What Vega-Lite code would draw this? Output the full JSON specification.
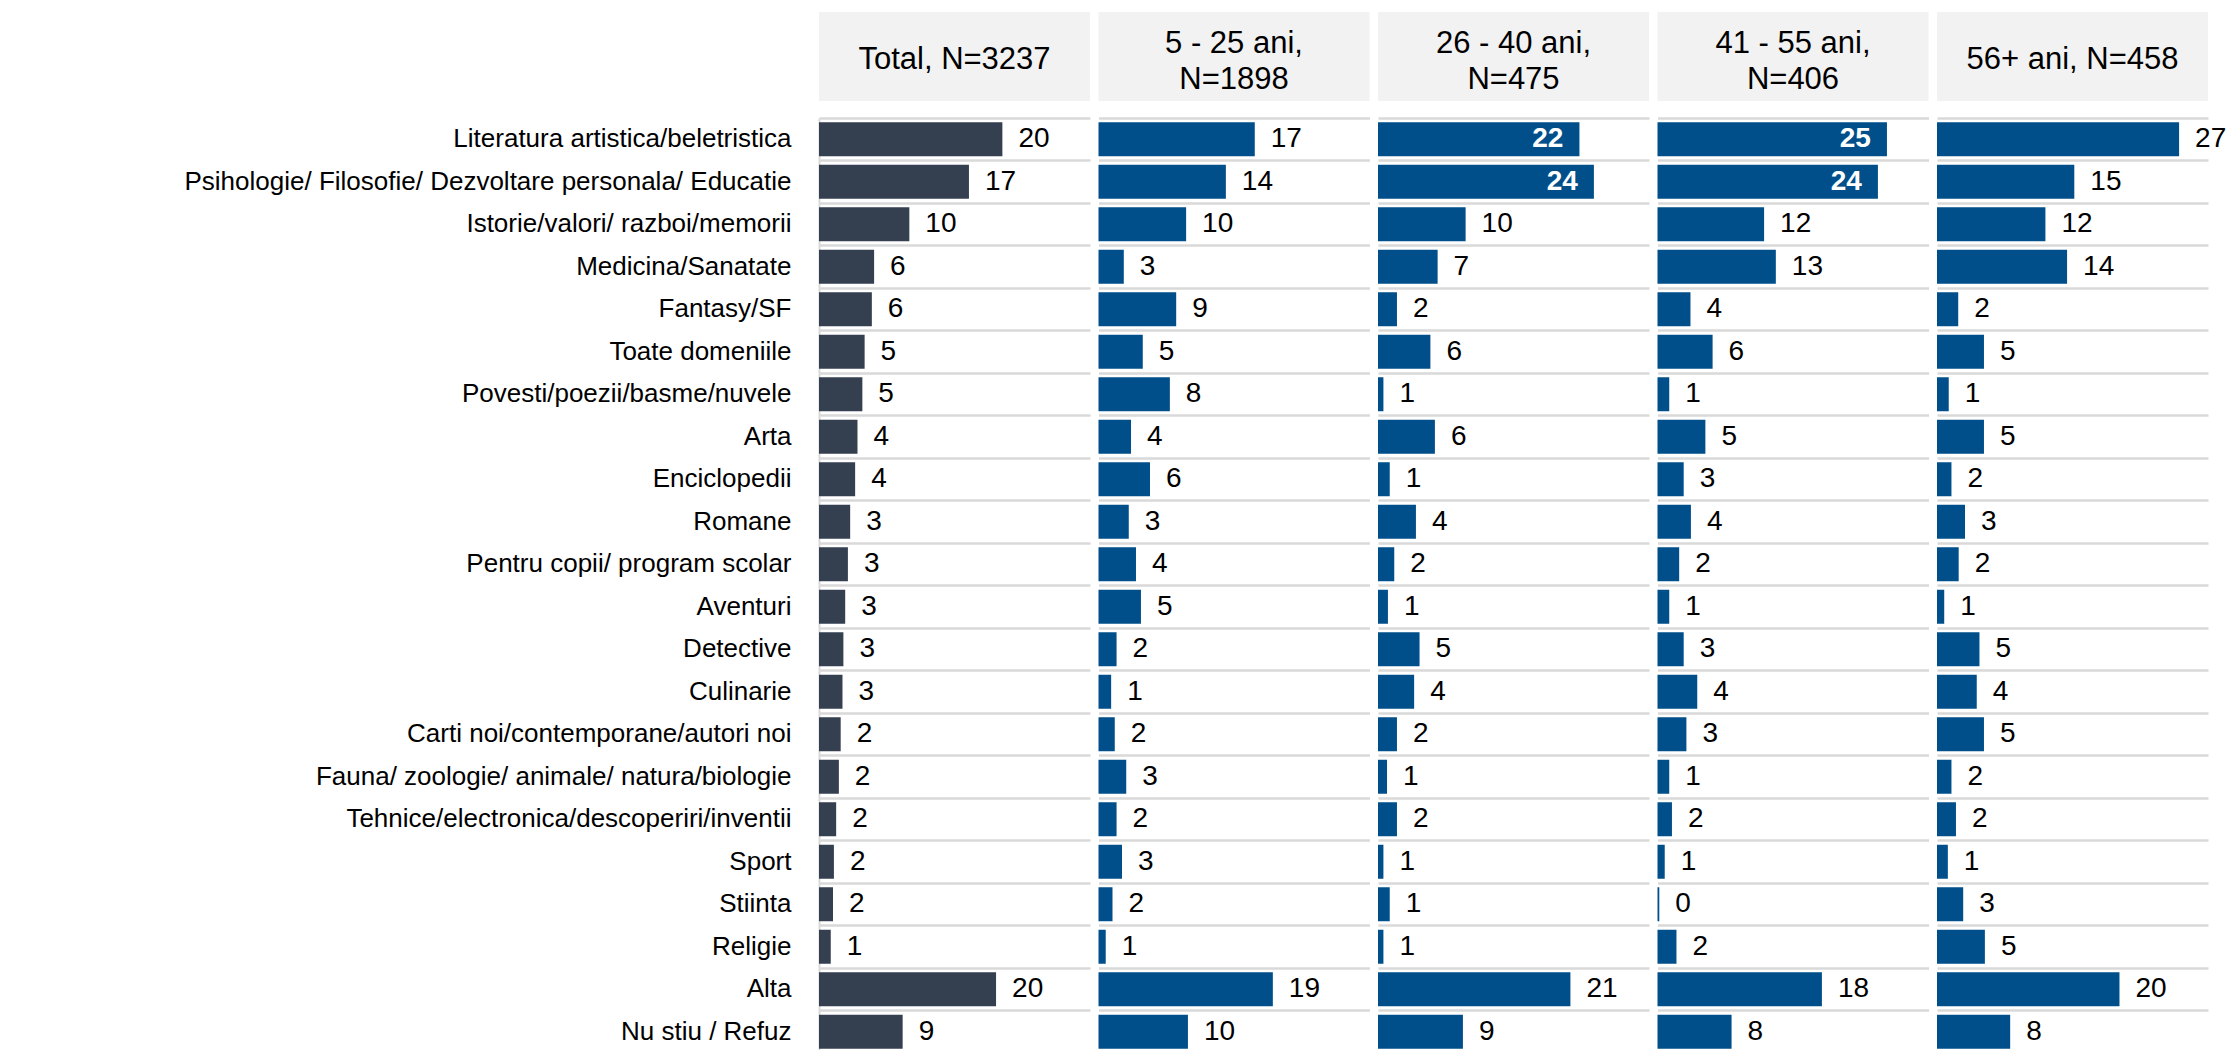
{
  "$schema": "https://vega.github.io/schema/vega-lite/v6.json",
  "padding": {"left": 5, "top": 12, "right": 0, "bottom": 0},
  "autosize": {"type": "pad"},
  "background": "white",
  "config": {"font": "Liberation Sans", "view": {"stroke": null}},
  "datasets": {
    "headers": [
      {"group": "Total", "header": "Total, N=3237"},
      {"group": "5-25", "header": "5 - 25 ani,\nN=1898"},
      {"group": "26-40", "header": "26 - 40 ani,\nN=475"},
      {"group": "41-55", "header": "41 - 55 ani,\nN=406"},
      {"group": "56+", "header": "56+ ani, N=458"}
    ],
    "rows": [
      {"cat": "Literatura artistica/beletristica", "group": "Total", "value": 20.3},
      {"cat": "Psihologie/ Filosofie/ Dezvoltare personala/ Educatie", "group": "Total", "value": 16.6},
      {"cat": "Istorie/valori/ razboi/memorii", "group": "Total", "value": 10.0},
      {"cat": "Medicina/Sanatate", "group": "Total", "value": 6.1},
      {"cat": "Fantasy/SF", "group": "Total", "value": 5.85},
      {"cat": "Toate domeniile", "group": "Total", "value": 5.05},
      {"cat": "Povesti/poezii/basme/nuvele", "group": "Total", "value": 4.8},
      {"cat": "Arta", "group": "Total", "value": 4.26},
      {"cat": "Enciclopedii", "group": "Total", "value": 4.0},
      {"cat": "Romane", "group": "Total", "value": 3.45},
      {"cat": "Pentru copii/ program scolar", "group": "Total", "value": 3.2},
      {"cat": "Aventuri", "group": "Total", "value": 2.9},
      {"cat": "Detective", "group": "Total", "value": 2.7},
      {"cat": "Culinarie", "group": "Total", "value": 2.6},
      {"cat": "Carti noi/contemporane/autori noi", "group": "Total", "value": 2.4},
      {"cat": "Fauna/ zoologie/ animale/ natura/biologie", "group": "Total", "value": 2.2},
      {"cat": "Tehnice/electronica/descoperiri/inventii", "group": "Total", "value": 1.9},
      {"cat": "Sport", "group": "Total", "value": 1.65},
      {"cat": "Stiinta", "group": "Total", "value": 1.55},
      {"cat": "Religie", "group": "Total", "value": 1.3},
      {"cat": "Alta", "group": "Total", "value": 19.6},
      {"cat": "Nu stiu / Refuz", "group": "Total", "value": 9.26},

      {"cat": "Literatura artistica/beletristica", "group": "5-25", "value": 17.3},
      {"cat": "Psihologie/ Filosofie/ Dezvoltare personala/ Educatie", "group": "5-25", "value": 14.1},
      {"cat": "Istorie/valori/ razboi/memorii", "group": "5-25", "value": 9.7},
      {"cat": "Medicina/Sanatate", "group": "5-25", "value": 2.8},
      {"cat": "Fantasy/SF", "group": "5-25", "value": 8.6},
      {"cat": "Toate domeniile", "group": "5-25", "value": 4.9},
      {"cat": "Povesti/poezii/basme/nuvele", "group": "5-25", "value": 7.9},
      {"cat": "Arta", "group": "5-25", "value": 3.6},
      {"cat": "Enciclopedii", "group": "5-25", "value": 5.7},
      {"cat": "Romane", "group": "5-25", "value": 3.35},
      {"cat": "Pentru copii/ program scolar", "group": "5-25", "value": 4.15},
      {"cat": "Aventuri", "group": "5-25", "value": 4.7},
      {"cat": "Detective", "group": "5-25", "value": 2.0},
      {"cat": "Culinarie", "group": "5-25", "value": 1.4},
      {"cat": "Carti noi/contemporane/autori noi", "group": "5-25", "value": 1.8},
      {"cat": "Fauna/ zoologie/ animale/ natura/biologie", "group": "5-25", "value": 3.07},
      {"cat": "Tehnice/electronica/descoperiri/inventii", "group": "5-25", "value": 2.0},
      {"cat": "Sport", "group": "5-25", "value": 2.6},
      {"cat": "Stiinta", "group": "5-25", "value": 1.55},
      {"cat": "Religie", "group": "5-25", "value": 0.8},
      {"cat": "Alta", "group": "5-25", "value": 19.3},
      {"cat": "Nu stiu / Refuz", "group": "5-25", "value": 9.9},

      {"cat": "Literatura artistica/beletristica", "group": "26-40", "value": 22.3},
      {"cat": "Psihologie/ Filosofie/ Dezvoltare personala/ Educatie", "group": "26-40", "value": 23.9},
      {"cat": "Istorie/valori/ razboi/memorii", "group": "26-40", "value": 9.7},
      {"cat": "Medicina/Sanatate", "group": "26-40", "value": 6.6},
      {"cat": "Fantasy/SF", "group": "26-40", "value": 2.1},
      {"cat": "Toate domeniile", "group": "26-40", "value": 5.8},
      {"cat": "Povesti/poezii/basme/nuvele", "group": "26-40", "value": 0.6},
      {"cat": "Arta", "group": "26-40", "value": 6.3},
      {"cat": "Enciclopedii", "group": "26-40", "value": 1.3},
      {"cat": "Romane", "group": "26-40", "value": 4.2},
      {"cat": "Pentru copii/ program scolar", "group": "26-40", "value": 1.8},
      {"cat": "Aventuri", "group": "26-40", "value": 1.1},
      {"cat": "Detective", "group": "26-40", "value": 4.6},
      {"cat": "Culinarie", "group": "26-40", "value": 4.0},
      {"cat": "Carti noi/contemporane/autori noi", "group": "26-40", "value": 2.1},
      {"cat": "Fauna/ zoologie/ animale/ natura/biologie", "group": "26-40", "value": 1.0},
      {"cat": "Tehnice/electronica/descoperiri/inventii", "group": "26-40", "value": 2.1},
      {"cat": "Sport", "group": "26-40", "value": 0.6},
      {"cat": "Stiinta", "group": "26-40", "value": 1.3},
      {"cat": "Religie", "group": "26-40", "value": 0.6},
      {"cat": "Alta", "group": "26-40", "value": 21.3},
      {"cat": "Nu stiu / Refuz", "group": "26-40", "value": 9.4},

      {"cat": "Literatura artistica/beletristica", "group": "41-55", "value": 25.4},
      {"cat": "Psihologie/ Filosofie/ Dezvoltare personala/ Educatie", "group": "41-55", "value": 24.4},
      {"cat": "Istorie/valori/ razboi/memorii", "group": "41-55", "value": 11.8},
      {"cat": "Medicina/Sanatate", "group": "41-55", "value": 13.1},
      {"cat": "Fantasy/SF", "group": "41-55", "value": 3.65},
      {"cat": "Toate domeniile", "group": "41-55", "value": 6.1},
      {"cat": "Povesti/poezii/basme/nuvele", "group": "41-55", "value": 1.3},
      {"cat": "Arta", "group": "41-55", "value": 5.3},
      {"cat": "Enciclopedii", "group": "41-55", "value": 2.9},
      {"cat": "Romane", "group": "41-55", "value": 3.7},
      {"cat": "Pentru copii/ program scolar", "group": "41-55", "value": 2.4},
      {"cat": "Aventuri", "group": "41-55", "value": 1.3},
      {"cat": "Detective", "group": "41-55", "value": 2.9},
      {"cat": "Culinarie", "group": "41-55", "value": 4.4},
      {"cat": "Carti noi/contemporane/autori noi", "group": "41-55", "value": 3.2},
      {"cat": "Fauna/ zoologie/ animale/ natura/biologie", "group": "41-55", "value": 1.3},
      {"cat": "Tehnice/electronica/descoperiri/inventii", "group": "41-55", "value": 1.6},
      {"cat": "Sport", "group": "41-55", "value": 0.8},
      {"cat": "Stiinta", "group": "41-55", "value": 0.2},
      {"cat": "Religie", "group": "41-55", "value": 2.1},
      {"cat": "Alta", "group": "41-55", "value": 18.2},
      {"cat": "Nu stiu / Refuz", "group": "41-55", "value": 8.2},

      {"cat": "Literatura artistica/beletristica", "group": "56+", "value": 26.8},
      {"cat": "Psihologie/ Filosofie/ Dezvoltare personala/ Educatie", "group": "56+", "value": 15.2},
      {"cat": "Istorie/valori/ razboi/memorii", "group": "56+", "value": 12.0},
      {"cat": "Medicina/Sanatate", "group": "56+", "value": 14.4},
      {"cat": "Fantasy/SF", "group": "56+", "value": 2.35},
      {"cat": "Toate domeniile", "group": "56+", "value": 5.2},
      {"cat": "Povesti/poezii/basme/nuvele", "group": "56+", "value": 1.3},
      {"cat": "Arta", "group": "56+", "value": 5.2},
      {"cat": "Enciclopedii", "group": "56+", "value": 1.6},
      {"cat": "Romane", "group": "56+", "value": 3.1},
      {"cat": "Pentru copii/ program scolar", "group": "56+", "value": 2.4},
      {"cat": "Aventuri", "group": "56+", "value": 0.8},
      {"cat": "Detective", "group": "56+", "value": 4.7},
      {"cat": "Culinarie", "group": "56+", "value": 4.4},
      {"cat": "Carti noi/contemporane/autori noi", "group": "56+", "value": 5.2},
      {"cat": "Fauna/ zoologie/ animale/ natura/biologie", "group": "56+", "value": 1.6},
      {"cat": "Tehnice/electronica/descoperiri/inventii", "group": "56+", "value": 2.1},
      {"cat": "Sport", "group": "56+", "value": 1.2},
      {"cat": "Stiinta", "group": "56+", "value": 2.9},
      {"cat": "Religie", "group": "56+", "value": 5.3},
      {"cat": "Alta", "group": "56+", "value": 20.2},
      {"cat": "Nu stiu / Refuz", "group": "56+", "value": 8.1}
    ]
  },
  "spacing": 8.5,
  "hconcat": [
    {
      "spacing": 17,
      "bounds": "flush",
      "vconcat": [
        {
          "width": 271, "height": 89,
          "view": {"fill": "#f2f2f2", "stroke": null},
          "data": {"name": "headers"},
          "transform": [{"filter": "datum.group === 'Total'"}],
          "mark": {"type": "text", "fontSize": 31, "lineBreak": "\n", "lineHeight": 36, "color": "#000000", "baseline": "middle", "align": "center", "dy": 3},
          "encoding": {
            "text": {"field": "header"},
            "x": {"field": "group", "type": "nominal", "axis": null},
            "y": {"field": "group", "type": "nominal", "axis": null}
          }
        },
        {
          "width": 271, "height": 935,
          "data": {"name": "rows"},
          "transform": [{"filter": "datum.group === 'Total'"}],
          "encoding": {
            "y": {"field": "cat", "type": "nominal", "sort": null, "scale": {"paddingInner": 0.2, "paddingOuter": 0.1},
                  "axis": {"title": null, "labelFontSize": 26, "labelColor": "#000000", "labelPadding": 28, "labelLimit": 800, "ticks": false, "domain": true, "domainColor": "#d9d9d9", "domainWidth": 2, "grid": true, "gridColor": "#d9d9d9", "gridWidth": 2.5, "bandPosition": -0.125, "minExtent": 814, "maxExtent": 814}},
            "x": {"field": "value", "type": "quantitative", "scale": {"domain": [0, 30]}, "axis": null}
          },
          "layer": [
            {"mark": {"type": "bar", "color": "#343F50"}},
            {"mark": {"type": "text", "align": "left", "baseline": "middle", "dx": 16, "fontSize": 28, "color": "#000000"},
             "encoding": {"text": {"field": "value", "type": "quantitative", "format": ".0f"}}}
          ]
        }
      ]
    },
    {
      "spacing": 17,
      "bounds": "flush",
      "vconcat": [
        {
          "width": 271, "height": 89,
          "view": {"fill": "#f2f2f2", "stroke": null},
          "data": {"name": "headers"},
          "transform": [{"filter": "datum.group === '5-25'"}],
          "mark": {"type": "text", "fontSize": 31, "lineBreak": "\n", "lineHeight": 36, "color": "#000000", "baseline": "middle", "align": "center", "dy": -13},
          "encoding": {
            "text": {"field": "header"},
            "x": {"field": "group", "type": "nominal", "axis": null},
            "y": {"field": "group", "type": "nominal", "axis": null}
          }
        },
        {
          "width": 271, "height": 935,
          "data": {"name": "rows"},
          "transform": [{"filter": "datum.group === '5-25'"}],
          "encoding": {
            "y": {"field": "cat", "type": "nominal", "sort": null, "scale": {"paddingInner": 0.2, "paddingOuter": 0.1},
                  "axis": {"title": null, "labels": false, "ticks": false, "domain": false, "grid": true, "gridColor": "#d9d9d9", "gridWidth": 2.5, "bandPosition": -0.125}},
            "x": {"field": "value", "type": "quantitative", "scale": {"domain": [0, 30]}, "axis": null}
          },
          "layer": [
            {"mark": {"type": "bar", "color": "#004F8A"}},
            {"mark": {"type": "text", "align": "left", "baseline": "middle", "dx": 16, "fontSize": 28, "color": "#000000"},
             "encoding": {"text": {"field": "value", "type": "quantitative", "format": ".0f"}}}
          ]
        }
      ]
    },
    {
      "spacing": 17,
      "bounds": "flush",
      "vconcat": [
        {
          "width": 271, "height": 89,
          "view": {"fill": "#f2f2f2", "stroke": null},
          "data": {"name": "headers"},
          "transform": [{"filter": "datum.group === '26-40'"}],
          "mark": {"type": "text", "fontSize": 31, "lineBreak": "\n", "lineHeight": 36, "color": "#000000", "baseline": "middle", "align": "center", "dy": -13},
          "encoding": {
            "text": {"field": "header"},
            "x": {"field": "group", "type": "nominal", "axis": null},
            "y": {"field": "group", "type": "nominal", "axis": null}
          }
        },
        {
          "width": 271, "height": 935,
          "data": {"name": "rows"},
          "transform": [{"filter": "datum.group === '26-40'"}],
          "encoding": {
            "y": {"field": "cat", "type": "nominal", "sort": null, "scale": {"paddingInner": 0.2, "paddingOuter": 0.1},
                  "axis": {"title": null, "labels": false, "ticks": false, "domain": false, "grid": true, "gridColor": "#d9d9d9", "gridWidth": 2.5, "bandPosition": -0.125}},
            "x": {"field": "value", "type": "quantitative", "scale": {"domain": [0, 30]}, "axis": null}
          },
          "layer": [
            {"mark": {"type": "bar", "color": "#004F8A"}},
            {"transform": [{"filter": "datum.value <= 21.5"}],
             "mark": {"type": "text", "align": "left", "baseline": "middle", "dx": 16, "fontSize": 28, "color": "#000000"},
             "encoding": {"text": {"field": "value", "type": "quantitative", "format": ".0f"}}},
            {"transform": [{"filter": "datum.value > 21.5"}],
             "mark": {"type": "text", "align": "right", "baseline": "middle", "dx": -16, "fontSize": 28, "fontWeight": "bold", "color": "#ffffff"},
             "encoding": {"text": {"field": "value", "type": "quantitative", "format": ".0f"}}}
          ]
        }
      ]
    },
    {
      "spacing": 17,
      "bounds": "flush",
      "vconcat": [
        {
          "width": 271, "height": 89,
          "view": {"fill": "#f2f2f2", "stroke": null},
          "data": {"name": "headers"},
          "transform": [{"filter": "datum.group === '41-55'"}],
          "mark": {"type": "text", "fontSize": 31, "lineBreak": "\n", "lineHeight": 36, "color": "#000000", "baseline": "middle", "align": "center", "dy": -13},
          "encoding": {
            "text": {"field": "header"},
            "x": {"field": "group", "type": "nominal", "axis": null},
            "y": {"field": "group", "type": "nominal", "axis": null}
          }
        },
        {
          "width": 271, "height": 935,
          "data": {"name": "rows"},
          "transform": [{"filter": "datum.group === '41-55'"}],
          "encoding": {
            "y": {"field": "cat", "type": "nominal", "sort": null, "scale": {"paddingInner": 0.2, "paddingOuter": 0.1},
                  "axis": {"title": null, "labels": false, "ticks": false, "domain": false, "grid": true, "gridColor": "#d9d9d9", "gridWidth": 2.5, "bandPosition": -0.125}},
            "x": {"field": "value", "type": "quantitative", "scale": {"domain": [0, 30]}, "axis": null}
          },
          "layer": [
            {"mark": {"type": "bar", "color": "#004F8A"}},
            {"transform": [{"filter": "datum.value <= 21.5"}],
             "mark": {"type": "text", "align": "left", "baseline": "middle", "dx": 16, "fontSize": 28, "color": "#000000"},
             "encoding": {"text": {"field": "value", "type": "quantitative", "format": ".0f"}}},
            {"transform": [{"filter": "datum.value > 21.5"}],
             "mark": {"type": "text", "align": "right", "baseline": "middle", "dx": -16, "fontSize": 28, "fontWeight": "bold", "color": "#ffffff"},
             "encoding": {"text": {"field": "value", "type": "quantitative", "format": ".0f"}}}
          ]
        }
      ]
    },
    {
      "spacing": 17,
      "bounds": "flush",
      "vconcat": [
        {
          "width": 271, "height": 89,
          "view": {"fill": "#f2f2f2", "stroke": null},
          "data": {"name": "headers"},
          "transform": [{"filter": "datum.group === '56+'"}],
          "mark": {"type": "text", "fontSize": 31, "lineBreak": "\n", "lineHeight": 36, "color": "#000000", "baseline": "middle", "align": "center", "dy": 3},
          "encoding": {
            "text": {"field": "header"},
            "x": {"field": "group", "type": "nominal", "axis": null},
            "y": {"field": "group", "type": "nominal", "axis": null}
          }
        },
        {
          "width": 271, "height": 935,
          "data": {"name": "rows"},
          "transform": [{"filter": "datum.group === '56+'"}],
          "encoding": {
            "y": {"field": "cat", "type": "nominal", "sort": null, "scale": {"paddingInner": 0.2, "paddingOuter": 0.1},
                  "axis": {"title": null, "labels": false, "ticks": false, "domain": false, "grid": true, "gridColor": "#d9d9d9", "gridWidth": 2.5, "bandPosition": -0.125}},
            "x": {"field": "value", "type": "quantitative", "scale": {"domain": [0, 30]}, "axis": null}
          },
          "layer": [
            {"mark": {"type": "bar", "color": "#004F8A"}},
            {"mark": {"type": "text", "align": "left", "baseline": "middle", "dx": 16, "fontSize": 28, "color": "#000000"},
             "encoding": {"text": {"field": "value", "type": "quantitative", "format": ".0f"}}}
          ]
        }
      ]
    }
  ]
}
